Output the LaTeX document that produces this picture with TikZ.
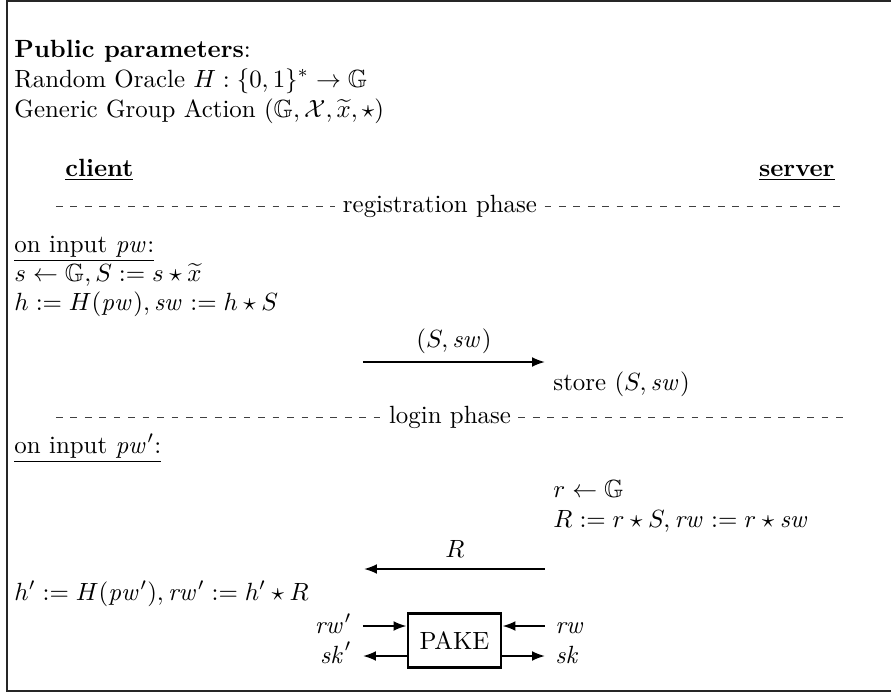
\documentclass[tikz,border=0pt]{standalone}
\usepackage{amssymb}
\usetikzlibrary{arrows.meta}
\newcommand\vv[1]{\mathit{#1}}
\begin{document}
\begin{tikzpicture}[x=0.4016pt,y=-0.4016pt,
  txt/.style={inner sep=0pt,anchor=base west,font=\normalsize},
  txtr/.style={inner sep=0pt,anchor=base east,font=\normalsize},
  txtc/.style={inner sep=0pt,anchor=base,font=\normalsize},
  phase/.style={inner xsep=2.8pt,inner ysep=0pt,anchor=base,font=\normalsize},
  dashline/.style={line width=0.36pt,black!75,dash pattern=on 2.7pt off 3.1pt},
  msg/.style={line width=0.8pt,-{Latex[length=5.2pt,width=4pt]}},
  frame/.style={line width=0.48pt,black!85},
  pakebox/.style={draw,line width=1.2pt,minimum width=37.35pt,minimum height=21.3pt,inner sep=0pt,font=\normalsize}]
\useasboundingbox (0,0) rectangle (891,694);
\draw[frame] (891,1) -- (7,1) -- (7,691) -- (891,691);

% public parameters
\node[txt] (pp) at (14,57) {\textbf{Public parameters}:};
\node[txt] (ro) at (14,87) {Random Oracle $H:\{0,1\}^*\to\mathbb{G}$};
\node[txt] (gga) at (14,117) {Generic Group Action $(\mathbb{G},\mathcal{X},\widetilde{x},\star)$};

% parties
\node[txt] (client) at (65,176) {\underline{\textbf{client}}};
\node[txtr] (server) at (835,176) {\underline{\textbf{server}}};

% registration phase
\node[phase] (reg) at (440,212) {registration phase};
\coordinate (regL) at (56,206);
\coordinate (regR) at (845,206);
\draw[dashline] (regL) -- (regL -| reg.west);
\draw[dashline] (reg.east |- regR) -- (regR);

\node[txt] (in1) at (14,252) {\underline{on input $\vv{pw}$:}};
\node[txt] (c1) at (14,281) {$s\leftarrow\mathbb{G}, S:=s\star\widetilde{x}$};
\node[txt] (c2) at (14,310) {$h:=H(\vv{pw}), \vv{sw}:=h\star S$};

\node[txtc] (m1) at (454,347) {$(S,\vv{sw})$};
\coordinate (m1s) at (363,362);
\coordinate (m1e) at (545,362);
\draw[msg] (m1s) -- (m1e);
\node[txt] (store) at (553,390) {store $(S,\vv{sw})$};

% login phase
\node[phase] (log) at (450,423) {login phase};
\coordinate (logL) at (56,417);
\coordinate (logR) at (845,417);
\draw[dashline] (logL) -- (logL -| log.west);
\draw[dashline] (log.east |- logR) -- (logR);

\node[txt] (in2) at (14,453) {\underline{on input $\vv{pw}'$:}};
\node[txt] (s1) at (553,497) {$r\leftarrow\mathbb{G}$};
\node[txt] (s2) at (553,527) {$R:=r\star S, \vv{rw}:=r\star \vv{sw}$};

\node[txtc] (m2) at (455,557) {$R$};
\coordinate (m2s) at (545,569);
\coordinate (m2e) at (364,569);
\draw[msg] (m2s) -- (m2e);

\node[txt] (c3) at (14,600) {$h':=H(\vv{pw}'), \vv{rw}':=h'\star R$};

% PAKE
\node[pakebox] (pake) at (454.5,640.5) {PAKE};
\node[txtr] (rwp) at (352,633) {$\vv{rw}'$};
\node[txtr] (skp) at (352,663) {$\vv{sk}'$};
\node[txt] (rw) at (555,633) {$\vv{rw}$};
\node[txt] (sk) at (555,663) {$\vv{sk}$};
\coordinate (a1) at (363,626);
\coordinate (a2) at (363,656);
\coordinate (a3) at (545,626);
\coordinate (a4) at (545,656);
\draw[msg] (a1) -- (a1 -| pake.west);
\draw[msg] (a2 -| pake.west) -- (a2);
\draw[msg] (a3) -- (a3 -| pake.east);
\draw[msg] (a4 -| pake.east) -- (a4);
\end{tikzpicture}
\end{document}
